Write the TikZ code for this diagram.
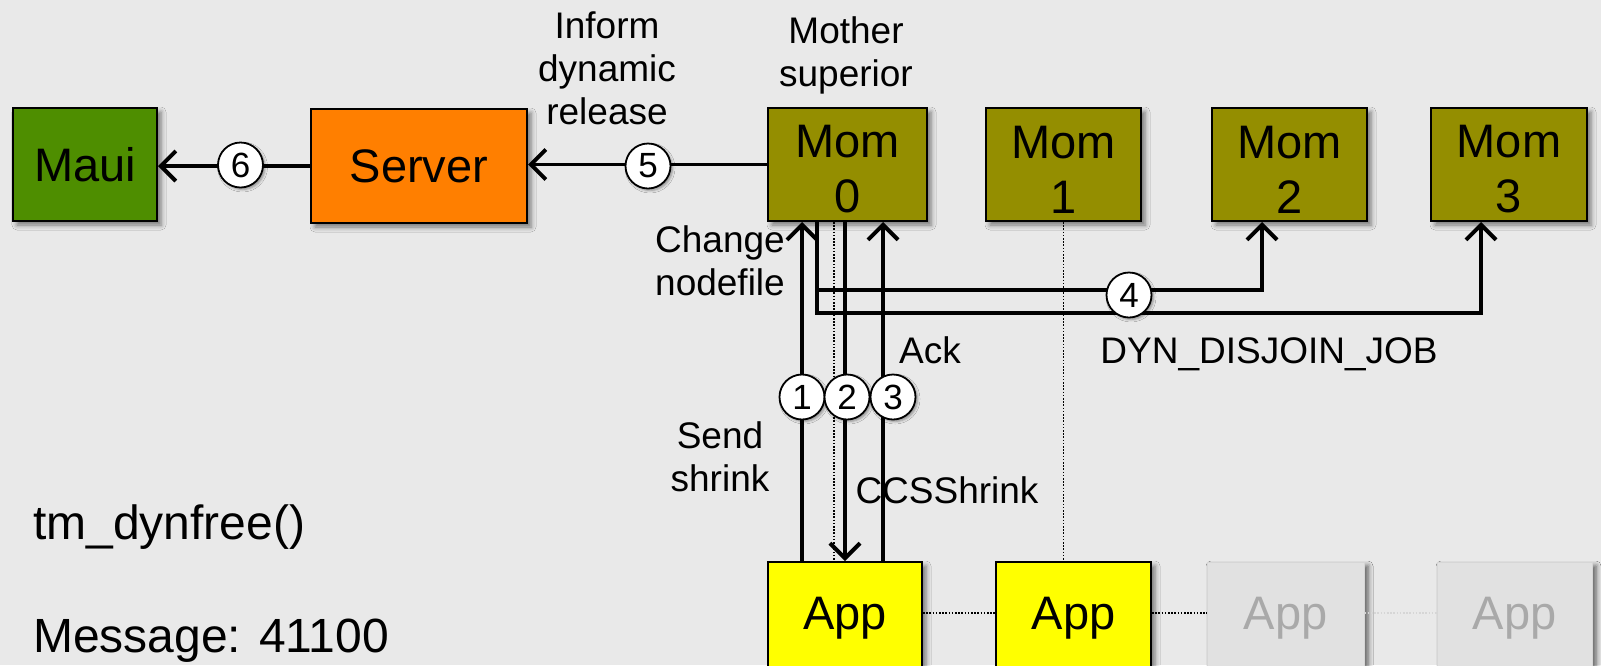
\documentclass[tikz,border=0pt]{standalone}
\usepackage{fontspec}
\setmainfont{Liberation Sans}
\usetikzlibrary{arrows.meta,shadows.blur}

\definecolor{bg}{HTML}{E9E9E9}
\definecolor{mauigreen}{HTML}{4E8E00}
\definecolor{serverorange}{HTML}{FF7F00}
\definecolor{momolive}{HTML}{948E00}
\definecolor{appyellow}{HTML}{FFFF00}
\definecolor{idlefill}{HTML}{E1E1E1}
\definecolor{idletext}{HTML}{A9A9A9}
\definecolor{idleline}{HTML}{D6D6D6}

\newcommand{\lowerstrut}{\rule{0pt}{42pt}}

\tikzset{
  box/.style={draw=black, line width=2pt, inner sep=0pt, align=center,
    font=\fontsize{47}{55}\selectfont,
    blur shadow={shadow xshift=4pt, shadow yshift=-4pt, shadow blur radius=5pt, shadow opacity=50}},
  idlebox/.style={box, draw=idleline, line width=1pt, fill=idlefill, text=idletext,
    blur shadow={shadow xshift=4pt, shadow yshift=-4pt, shadow blur radius=5pt, shadow opacity=35}},
  num/.style={circle, draw=black, fill=white, line width=1.8pt, minimum size=45pt, inner sep=0pt,
    font=\fontsize{35}{35}\selectfont,
    blur shadow={shadow xshift=2pt, shadow yshift=-2pt, shadow blur radius=2.5pt, shadow opacity=40}},
  lbl/.style={inner sep=0pt, align=center, font=\fontsize{37}{43}\selectfont},
  big/.style={inner sep=0pt, font=\fontsize{48}{55}\selectfont},
  wire/.style={line width=3.2pt},
  msg/.style={wire, -{Straight Barb[length=15pt,width=30pt,line width=4pt]}},
  link/.style={line width=1.6pt, dash pattern=on 1.6pt off 1.6pt},
}

\begin{document}
\begin{tikzpicture}[x=1pt, y=-1pt]
  % page frame and background
  \useasboundingbox (0,0) rectangle (1601,665);
  \fill[bg] (0,0) rectangle (1601,665);
  \clip (0,0) rectangle (1601,665);

  % scheduler, server and the mom daemons
  \node[box, fill=mauigreen, minimum width=144pt, minimum height=113pt] (maui) at (85,164.5) {Maui};
  \node[box, fill=serverorange, minimum width=216pt, minimum height=114pt] (server) at (419,166) {Server};
  \node[box, fill=momolive, minimum width=159pt, minimum height=113pt] (mom0) at (847.5,164.5) {\lowerstrut Mom\\0};
  \node[box, fill=momolive, minimum width=155pt, minimum height=113pt] (mom1) at (1063.5,164.5) {\lowerstrut Mom\\1};
  \node[box, fill=momolive, minimum width=155pt, minimum height=113pt] (mom2) at (1289.5,164.5) {\lowerstrut Mom\\2};
  \node[box, fill=momolive, minimum width=156pt, minimum height=113pt] (mom3) at (1509,164.5) {\lowerstrut Mom\\3};

  % application processes
  \node[box, fill=appyellow, minimum width=154pt, minimum height=112pt] (app1) at (845,618) {App};
  \node[box, fill=appyellow, minimum width=155pt, minimum height=112pt] (app2) at (1073.5,618) {App};
  \node[idlebox, minimum width=157pt, minimum height=112pt] (app3) at (1285.5,618) {App};
  \node[idlebox, minimum width=155pt, minimum height=112pt] (app4) at (1514.5,618) {App};

  % helper positions for the vertical and horizontal runs
  \coordinate (v1) at (802,0);
  \coordinate (vj) at (817,0);
  \coordinate (vd) at (834,0);
  \coordinate (v3) at (883,0);
  \coordinate (v4a) at (1262,0);
  \coordinate (v4b) at (1481,0);
  \coordinate (h2) at (0,290);
  \coordinate (h3) at (0,313);
  \coordinate (row) at (0,613);

  % process links
  \draw[link] (vd |- mom0.south) -- (vd |- app1.north);
  \draw[link] (mom1.south) -- (mom1.south |- app2.north);
  \draw[link] (app1.east |- row) -- (app2.west |- row);
  \draw[link] (app2.east |- row) -- (app3.west |- row);
  \draw[link, draw=idleline] (app3.east |- row) -- (app4.west |- row);

  % messages
  \draw[msg] (server.west) -- (server.west -| maui.east);
  \draw[msg] (mom0.west) -- (mom0.west -| server.east);
  \draw[msg] (v1 |- app1.north) -- (v1 |- mom0.south);
  \draw[msg] (app1.north |- mom0.south) -- (app1.north);
  \draw[msg] (v3 |- app1.north) -- (v3 |- mom0.south);
  \draw[msg] (vj |- mom0.south) |- (v4b |- h3) -- (v4b |- mom3.south);
  \draw[msg] (vj |- h2) -- (v4a |- h2) -- (v4a |- mom2.south);

  % step numbers
  \node[num] (n1) at (802,397) {1};
  \node[num] (n2) at (847,397) {2};
  \node[num] (n3) at (893,397) {3};
  \node[num] (n4) at (1129,295) {4};
  \node[num] (n5) at (648,166) {5};
  \node[num] (n6) at (240.5,165) {6};

  % annotations
  \node[lbl] (inform) at (607,68) {Inform\\dynamic\\release};
  \node[lbl] (mother) at (846,55) {Mother\\superior};
  \node[lbl] (change) at (720,261) {Change\\nodefile};
  \node[lbl] (send) at (720,457) {Send\\shrink};
  \node[lbl, anchor=base] (ack) at (930,363) {Ack};
  \node[lbl, anchor=base] (ccs) at (947,503) {CCSShrink};
  \node[lbl, anchor=base] (dyn) at (1269,363) {DYN\_DISJOIN\_JOB};
  \node[big, anchor=base west] (call) at (33,539) {tm\_dynfree()};
  \node[big, anchor=base west] (code) at (33,652) {Message: 41100};
\end{tikzpicture}
\end{document}
